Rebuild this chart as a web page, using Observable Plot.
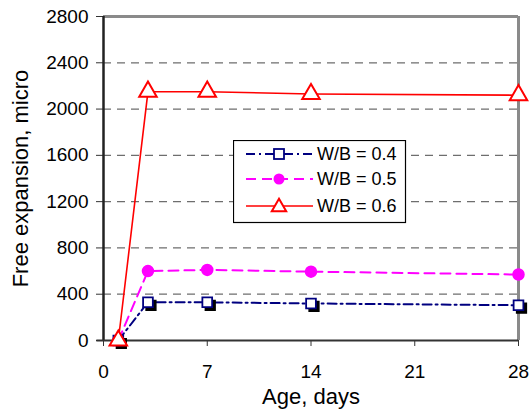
<!DOCTYPE html>
<html>
<head>
<meta charset="utf-8">
<script src="https://cdn.jsdelivr.net/npm/d3@7"></script>
<script src="https://cdn.jsdelivr.net/npm/@observablehq/plot@0.6"></script>
<style>
  html, body { margin: 0; padding: 0; background: #fff; }
  #wrap { position: relative; width: 530px; height: 409px; font-family: "Liberation Sans", Arial, sans-serif; }
  #legend { position: absolute; left: 233px; top: 140px; }
</style>
</head>
<body>
<div id="wrap"></div>
<script>
const days = [1, 3, 7, 14, 28];
const wb04 = [0, 330, 330, 320, 305];
const wb05 = [0, 600, 610, 595, 570];
const wb06 = [0, 2150, 2150, 2130, 2120];
const seriesNames = ["W/B = 0.4", "W/B = 0.5", "W/B = 0.6"];
const xTicks = [0, 7, 14, 21, 28];
const yTicks = [0, 400, 800, 1200, 1600, 2000, 2400, 2800];
const gridValues = [400, 800, 1200, 1600, 2000, 2400];

const toRows = (vals) => days.map((d, i) => ({day: d, value: vals[i]}));
const s04 = toRows(wb04), s05 = toRows(wb05), s06 = toRows(wb06);

const font = "Liberation Sans, Arial, sans-serif";

const chart = Plot.plot({
  width: 530,
  height: 409,
  marginLeft: 103,
  marginRight: 12,
  marginTop: 16,
  marginBottom: 69,
  style: {fontFamily: font, background: "white", color: "black", overflow: "visible"},
  x: {domain: [0, 28]},
  y: {domain: [0, 2800]},
  marks: [
    Plot.ruleY(gridValues, {stroke: "#6e6e6e", strokeWidth: 1.2, strokeDasharray: "8,6"}),
    Plot.ruleY([2800], {stroke: "#8a8a8a", strokeWidth: 3}),
    Plot.ruleX([28], {stroke: "#8a8a8a", strokeWidth: 3}),
    Plot.axisY({ticks: yTicks, tickFormat: d3.format("d"), tickSize: 7, tickPadding: 8, fontSize: 19, label: null, stroke: "#333"}),
    Plot.axisX({ticks: xTicks, tickFormat: d3.format("d"), tickSize: 6, tickPadding: 18, fontSize: 19, label: null, stroke: "#333"}),
    Plot.ruleX([0], {stroke: "#222", strokeWidth: 2.5}),
    Plot.ruleY([0], {stroke: "#333", strokeWidth: 2, x1: -0.45, x2: 28}),
    // W/B = 0.6
    Plot.line(s06, {x: "day", y: "value", stroke: "#ff0000", strokeWidth: 1.6}),
    // W/B = 0.5
    Plot.line(s05, {x: "day", y: "value", stroke: "#ff00ff", strokeWidth: 2, strokeDasharray: "10,6"}),
    Plot.dot(s05, {x: "day", y: "value", r: 5.5, fill: "#ff00ff", stroke: "#ff00ff"}),
    // W/B = 0.4
    Plot.line(s04, {x: "day", y: "value", stroke: "#000080", strokeWidth: 2, strokeDasharray: "9,4,2,4"}),
    Plot.dot(s04, {x: "day", y: "value", symbol: "square", r: 5.5, fill: "black", stroke: "black", dx: 3, dy: 3}),
    Plot.dot(s04, {x: "day", y: "value", symbol: "square", r: 5.5, fill: "white", stroke: "#000080", strokeWidth: 1.8}),
    Plot.dot(s06, {x: "day", y: "value", symbol: "triangle", r: 6.5, fill: "white", stroke: "#ff0000", strokeWidth: 2}),
    Plot.text(["Age, days"], {frameAnchor: "bottom", lineAnchor: "middle", textAnchor: "middle", dy: 56, fontSize: 22, fill: "black"}),
    Plot.text(["Free expansion, micro"], {frameAnchor: "left", textAnchor: "middle", lineAnchor: "middle", rotate: -90, dx: -83, fontSize: 22, fill: "black"})
  ]
});
const wrap = document.getElementById("wrap");
wrap.appendChild(chart);

// Legend
const lw = 172, lh = 82;
const leg = d3.select(wrap).append("svg").attr("id", "legend")
  .attr("width", lw + 2).attr("height", lh + 2);
leg.append("rect").attr("x", 0.5).attr("y", 0.5).attr("width", lw).attr("height", lh)
  .attr("fill", "white").attr("stroke", "black").attr("stroke-width", 1.2);
const styles = [
  {stroke: "#000080", dash: "9,4,2,4", w: 2},
  {stroke: "#ff00ff", dash: "10,6", w: 2},
  {stroke: "#ff0000", dash: null, w: 1.6}
];
const rowsY = [14, 39, 66];
seriesNames.forEach((name, i) => {
  const g = leg.append("g").attr("transform", `translate(0,${rowsY[i]})`);
  const st = styles[i];
  g.append("line").attr("x1", 13).attr("x2", 80).attr("y1", 0).attr("y2", 0)
    .attr("stroke", st.stroke).attr("stroke-width", st.w)
    .attr("stroke-dasharray", st.dash);
  if (i === 0) {
    g.append("rect").attr("x", 41).attr("y", -5).attr("width", 10).attr("height", 10)
      .attr("fill", "white").attr("stroke", "#000080").attr("stroke-width", 1.8);
  } else if (i === 1) {
    g.append("circle").attr("cx", 46).attr("cy", 0).attr("r", 5.5).attr("fill", "#ff00ff");
  } else {
    g.append("path").attr("d", d3.symbol(d3.symbolTriangle, 90)()).attr("transform", "translate(46,1)")
      .attr("fill", "white").attr("stroke", "#ff0000").attr("stroke-width", 2);
  }
  g.append("text").attr("x", 84).attr("y", 0).attr("dy", "0.35em")
    .attr("font-family", font).attr("font-size", 18).attr("fill", "black").text(name);
});
</script>
</body>
</html>
